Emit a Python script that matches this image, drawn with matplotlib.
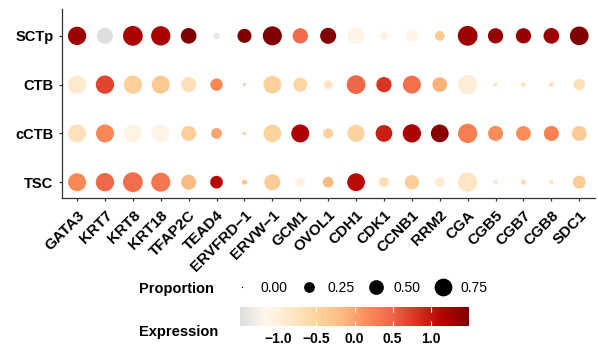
import numpy as np
import matplotlib
matplotlib.use("Agg")
import matplotlib.pyplot as plt
from matplotlib.colors import LinearSegmentedColormap, Normalize
from matplotlib.lines import Line2D

plt.rcParams['font.family'] = ['Liberation Sans', 'DejaVu Sans']

genes = ["GATA3", "KRT7", "KRT8", "KRT18", "TFAP2C", "TEAD4", "ERVFRD\u22121", "ERVW\u22121",
         "GCM1", "OVOL1", "CDH1", "CDK1", "CCNB1", "RRM2", "CGA", "CGB5", "CGB7", "CGB8", "SDC1"]
groups = ["TSC", "cCTB", "CTB", "SCTp"]  # bottom to top

# expression (scaled) per group
expr_SCTp = [1.30, -1.50, 1.20, 1.23, 1.50, -1.35, 1.48, 1.50, 0.45, 1.48, -1.10, -1.05, -1.10, -0.35, 1.30, 1.35, 1.35, 1.32, 1.48]
expr_CTB  = [-0.90, 0.70, -0.45, -0.35, -0.70, 0.20, -0.45, -0.45, -0.52, -0.75, 0.50, 0.80, 0.40, -0.10, -0.95, -0.75, -0.75, -0.75, -0.70]
expr_cCTB = [-0.72, 0.20, -1.08, -1.12, -0.45, 0.00, -0.40, -0.50, 1.20, -0.45, -0.50, 0.95, 1.20, 1.43, 0.30, 0.18, 0.17, 0.28, -0.38]
expr_TSC  = [0.22, 0.47, 0.43, 0.35, -0.17, 1.12, -0.25, -0.38, -1.05, -0.17, 1.10, -0.70, -0.40, -0.95, -0.80, -0.80, -0.65, -0.80, -0.40]

# proportion of cells expressing
prop_SCTp = [0.80, 0.60, 0.94, 0.90, 0.57, 0.08, 0.45, 0.87, 0.54, 0.60, 0.60, 0.12, 0.30, 0.20, 0.94, 0.54, 0.54, 0.57, 0.84]
prop_CTB  = [0.80, 0.80, 0.80, 0.77, 0.52, 0.34, 0.01, 0.75, 0.45, 0.15, 0.84, 0.54, 0.77, 0.50, 0.90, 0.02, 0.03, 0.03, 0.28]
prop_cCTB = [0.77, 0.77, 0.77, 0.77, 0.52, 0.25, 0.01, 0.75, 0.77, 0.21, 0.71, 0.66, 0.80, 0.75, 0.90, 0.52, 0.50, 0.52, 0.52]
prop_TSC  = [0.77, 0.80, 0.94, 0.87, 0.52, 0.36, 0.04, 0.60, 0.18, 0.25, 0.75, 0.21, 0.47, 0.21, 0.90, 0.03, 0.04, 0.03, 0.38]

size_breaks = [0.00, 0.25, 0.50, 0.75]
color_ticks = [-1.0, -0.5, 0.0, 0.5, 1.0]

expr = {"SCTp": expr_SCTp, "CTB": expr_CTB, "cCTB": expr_cCTB, "TSC": expr_TSC}
prop = {"SCTp": prop_SCTp, "CTB": prop_CTB, "cCTB": prop_cCTB, "TSC": prop_TSC}

W, H = 598, 349
fig = plt.figure(figsize=(W / 100, H / 100), dpi=100)

def fx(px):
    return px / W

def fy(py):
    return 1 - py / H

cmap = LinearSegmentedColormap.from_list(
    "greyOrRd", ["#dedede", "#fff7ec", "#fee8c8", "#fdd49e", "#fdbb84", "#fc8d59",
                 "#ef6548", "#d7301f", "#b30000", "#7f0000"])
norm = Normalize(-1.5, 1.5)

def diam_pt(p):
    return (1.3 + 19.0 * np.sqrt(np.asarray(p, dtype=float))) * 0.72

left, right, top, bottom = 61.7, 594.6, 9.0, 198.3
ax = fig.add_axes([fx(left), fy(bottom), fx(right - left), (bottom - top) / H])

xs, ys, cs, ss = [], [], [], []
for gi, g in enumerate(groups):
    for j in range(len(genes)):
        xs.append(j)
        ys.append(gi)
        cs.append(expr[g][j])
        ss.append(diam_pt(prop[g][j]) ** 2)
sc = ax.scatter(xs, ys, c=cs, s=ss, cmap=cmap, norm=norm, linewidths=0)

ax.set_xlim(-0.55, len(genes) - 1 + 0.55)
ax.set_ylim(-0.33, 3.55)
ax.set_xticks(range(len(genes)))
ax.set_xticklabels(genes, rotation=45, ha='right', va='top', rotation_mode='anchor',
                   fontsize=11, fontweight='bold')
ax.set_yticks(range(len(groups)))
ax.set_yticklabels(groups, fontsize=10.5, fontweight='bold')
for s in ['top', 'right']:
    ax.spines[s].set_visible(False)
for s in ['left', 'bottom']:
    ax.spines[s].set_color('#333333')
    ax.spines[s].set_linewidth(0.9)
ax.tick_params(axis='both', length=2.5, width=0.9, color='#333333', pad=3.5)
ax.tick_params(axis='x', pad=4.5)

# size legend
handles = [Line2D([], [], marker='o', ls='', color='black', markeredgewidth=0,
                  markersize=diam_pt(b)) for b in size_breaks]
leg = fig.legend(handles, [f"{b:.2f}" for b in size_breaks], ncol=4, frameon=False,
                 loc='center left', bbox_to_anchor=(fx(234), fy(287.5)),
                 borderpad=0, borderaxespad=0, handlelength=1.2, handletextpad=0.7,
                 columnspacing=0.96, prop={'size': 10})
fig.text(fx(138.5), fy(292.5), "Proportion", fontsize=10.5, fontweight='bold',
         ha='left', va='baseline')

# colorbar
cax = fig.add_axes([fx(240), fy(325.5), fx(469 - 240), 18.3 / H])
cb = fig.colorbar(sc, cax=cax, orientation='horizontal', ticks=color_ticks)
cb.outline.set_visible(False)
cb.set_ticklabels([f"{t:.1f}".replace('-', '\u2212') for t in color_ticks])
cax.tick_params(axis='x', direction='in', color='white', length=3.5, width=0.8,
                top=True, pad=5, labelsize=10)
for lbl in cax.get_xticklabels():
    lbl.set_fontweight('bold')
fig.text(fx(139.3), fy(336.3), "Expression", fontsize=10.5, fontweight='bold',
         ha='left', va='baseline')

fig.savefig("out.png", dpi=100)
